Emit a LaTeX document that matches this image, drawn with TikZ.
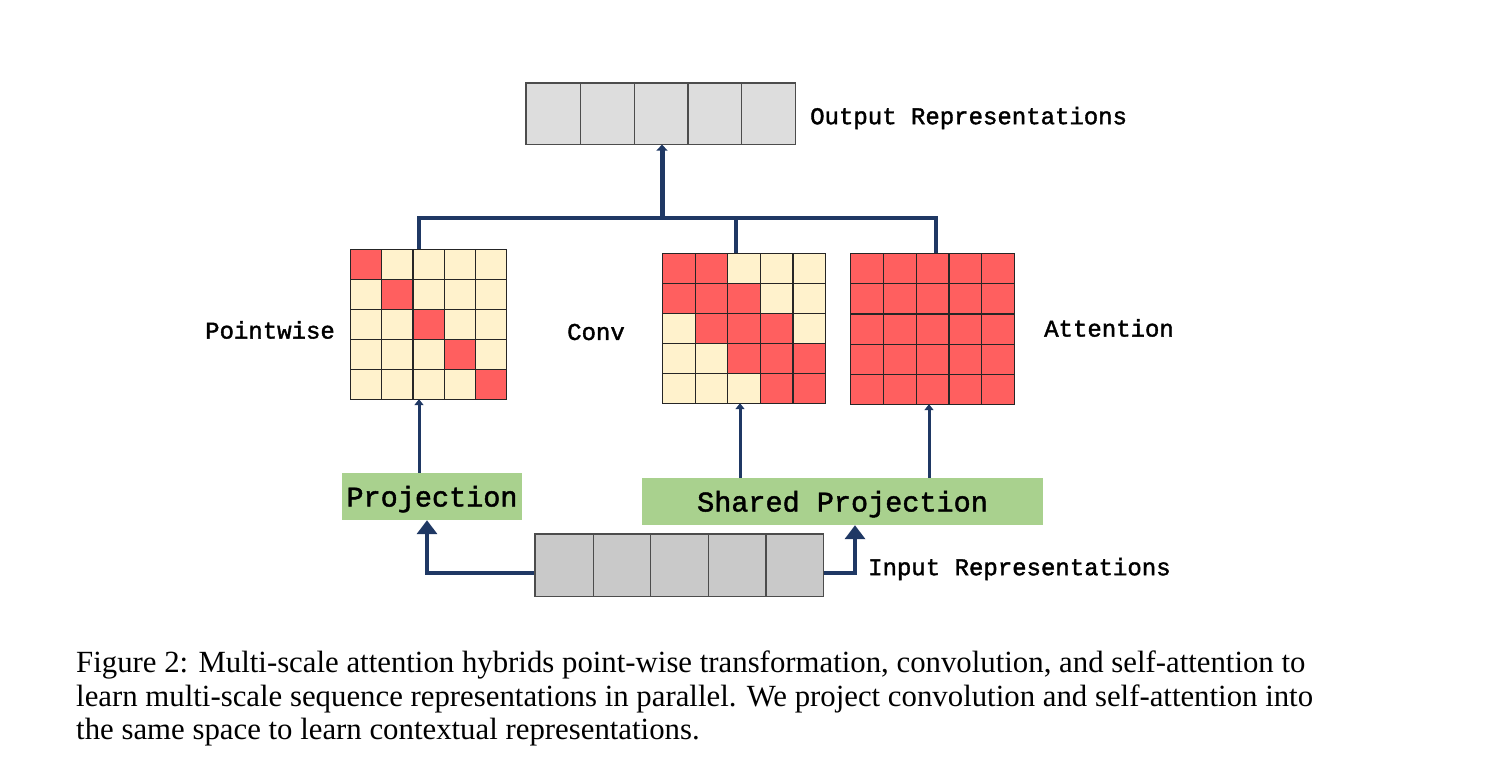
\documentclass[tikz,border=0pt]{standalone}
\usepackage{fontspec}
\setmainfont{Liberation Serif}
\newfontfamily\monofont{Liberation Mono}[FakeBold=1.6]
\usetikzlibrary{arrows.meta}

\definecolor{navy}{RGB}{31,56,100}
\definecolor{hot}{RGB}{255,95,95}
\definecolor{cream}{RGB}{255,242,204}
\definecolor{leaf}{RGB}{169,209,142}
\definecolor{outgray}{RGB}{221,221,221}
\definecolor{ingray}{RGB}{201,201,201}

\tikzset{
  cell/.style={draw=black!85, line width=1.2pt, inner sep=0pt, anchor=north west},
  vec/.style={draw=black!70, line width=1.2pt, inner sep=0pt},
  grid/.style={inner sep=0pt},
  proj/.style={fill=leaf, inner sep=0pt, text height=26pt, text depth=6pt, font=\monofont\fontsize{28.5}{30}\selectfont},
  tag/.style={anchor=west, inner sep=0pt, font=\monofont\fontsize{24}{26}\selectfont},
  bus/.style={navy, line width=3.5pt},
  feed/.style={navy, line width=3pt, -{Triangle[width=9pt,length=6pt]}},
  lift/.style={navy, line width=3.5pt, -{Triangle[width=20pt,length=14pt]}},
}

\begin{document}
\begin{tikzpicture}[x=1pt, y=-1pt]
\useasboundingbox (0,0) rectangle (1504,783);

% output and input vectors
\node[vec, fill=outgray, minimum width=269pt, minimum height=61pt] (out) at (660.5,113.5) {};
\foreach \i in {1,...,5}
  \node[cell, draw=black!70, fill=outgray, minimum width=53.8pt, minimum height=61pt] (out-\i) at ({526+(\i-1)*53.8},83) {};
\node[vec, fill=ingray, minimum width=288pt, minimum height=62pt] (in) at (679,565) {};
\foreach \i in {1,...,5}
  \node[cell, draw=black!70, fill=ingray, minimum width=57.6pt, minimum height=62pt] (in-\i) at ({535+(\i-1)*57.6},534) {};

% pointwise
\node[grid, minimum width=156pt, minimum height=150pt] (pw) at (428,324) {};
\foreach \r in {1,...,5}
  \foreach \c in {1,...,5} {
    \ifnum\r=\c \def\shade{hot}\else\def\shade{cream}\fi
    \node[cell, fill=\shade, minimum width=31.2pt, minimum height=30pt] (pw-\r-\c) at ({350+(\c-1)*31.2},{249+(\r-1)*30}) {};
  }

% conv
\node[grid, minimum width=163pt, minimum height=150pt] (cv) at (743.5,328) {};
\foreach \r in {1,...,5}
  \foreach \c in {1,...,5} {
    \pgfmathtruncatemacro\gap{abs(\r-\c)}
    \ifnum\gap<2 \def\shade{hot}\else\def\shade{cream}\fi
    \node[cell, fill=\shade, minimum width=32.6pt, minimum height=30pt] (cv-\r-\c) at ({662+(\c-1)*32.6},{253+(\r-1)*30}) {};
  }

% attention
\node[grid, minimum width=164pt, minimum height=151pt] (at) at (932,328.5) {};
\foreach \r in {1,...,5}
  \foreach \c in {1,...,5}
    \node[cell, fill=hot, minimum width=32.8pt, minimum height=30.2pt] (at-\r-\c) at ({850+(\c-1)*32.8},{253+(\r-1)*30.2}) {};

% projections
\node[proj, minimum width=180pt, minimum height=47pt] (proj) at (432,496.5) {Projection};
\node[proj, minimum width=401pt, minimum height=47pt] (shared) at (842.5,501.5) {Shared Projection};

% labels
\node[tag] (outlbl) at (810,118) {Output Representations};
\node[tag] (inlbl) at (868,569) {Input Representations};
\node[tag] (pwlbl) at (205,330) {Pointwise};
\node[tag] (cvlbl) at (567,332) {Conv};
\node[tag] (atlbl) at (1044,328) {Attention};

% connectors
\coordinate (hub) at (662,218);
\draw[bus] ([xshift=-9pt]pw.north) |- (hub) -| ([xshift=4pt]at.north);
\draw[bus] ([xshift=-7.5pt]cv.north) -- ([xshift=-7.5pt]cv.north |- hub);
\draw[navy, line width=5pt, -{Triangle[width=11pt,length=6pt]}] (hub) -- (out.south -| hub);

\draw[feed] ([xshift=-13pt]proj.north) -- ([xshift=-9pt]pw.south);
\draw[feed] ([xshift=-3.5pt]cv.south |- shared.north) -- ([xshift=-3.5pt]cv.south);
\draw[feed] ([xshift=-3pt]at.south |- shared.north) -- ([xshift=-3pt]at.south);

\draw[lift] ([yshift=-8pt]in.west) -| ([xshift=-5pt]proj.south);
\draw[lift] ([yshift=-8pt]in.east) -| ([xshift=12.5pt]shared.south);

% caption
\node[anchor=north west, inner sep=0pt, align=left, font=\fontsize{30.8}{33.5}\selectfont] (cap) at (76,651)
  {Figure 2: Multi-scale attention hybrids point-wise transformation, convolution, and self-attention to\\
   learn multi-scale sequence representations in parallel. We project convolution and self-attention into\\
   the same space to learn contextual representations.};
\end{tikzpicture}
\end{document}
